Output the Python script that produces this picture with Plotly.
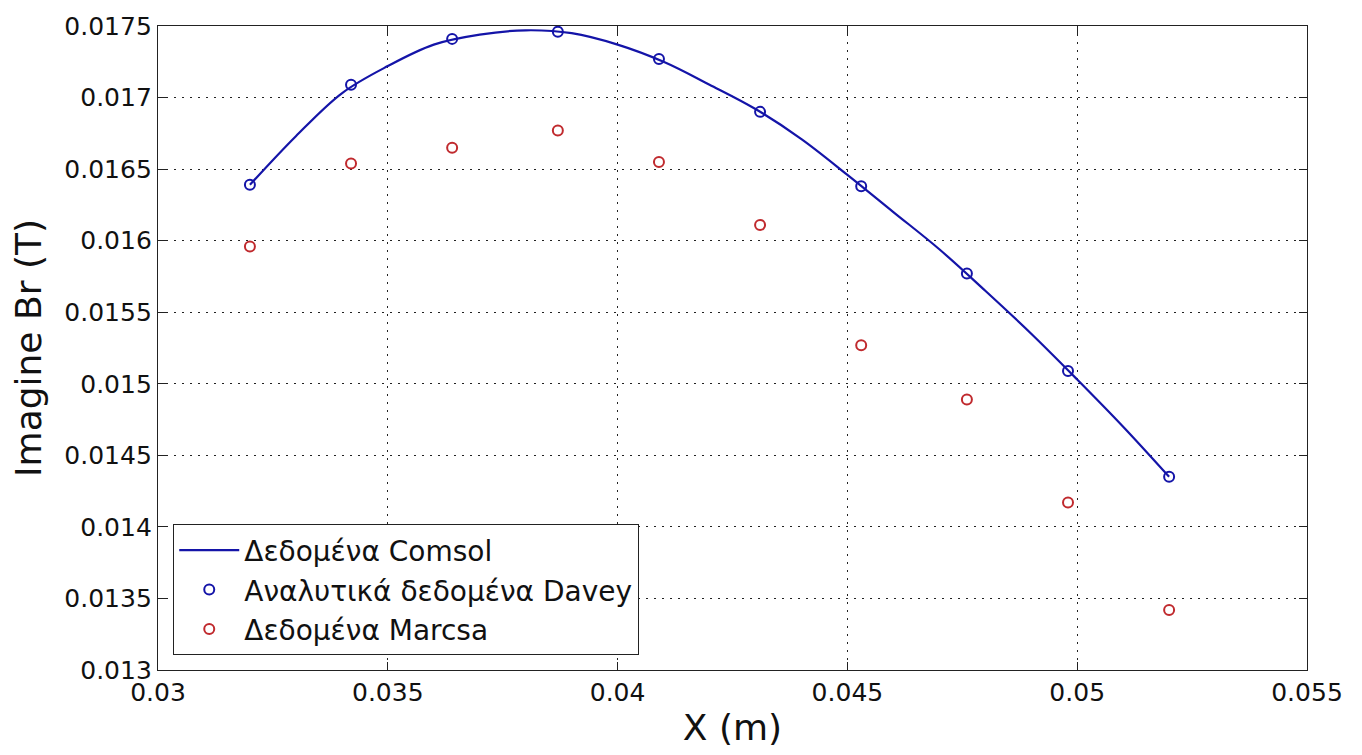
import plotly.graph_objects as go

# Data
x_points = [0.0320, 0.0342, 0.0364, 0.0387, 0.0409, 0.0431, 0.0453, 0.0476, 0.0498, 0.0520]
davey = [0.01639, 0.01709, 0.01741, 0.01746, 0.01727, 0.01690, 0.01638, 0.01577, 0.01509, 0.01435]
marcsa = [0.01596, 0.01654, 0.01665, 0.01677, 0.01655, 0.01611, 0.01527, 0.01489, 0.01417, 0.01342]

x_comsol = [0.032, 0.033, 0.034, 0.035, 0.036, 0.037, 0.038, 0.039, 0.040, 0.041, 0.042,
            0.043, 0.044, 0.045, 0.046, 0.047, 0.048, 0.049, 0.050, 0.051, 0.052]
comsol = [0.01639, 0.01673, 0.01703, 0.01722, 0.01737, 0.01744, 0.01747, 0.01745, 0.01737,
          0.01725, 0.01709, 0.01692, 0.01671, 0.01646, 0.01620, 0.01594, 0.01565, 0.01535,
          0.01503, 0.01470, 0.01435]

x_ticks = [0.03, 0.035, 0.04, 0.045, 0.05, 0.055]
x_ticktext = ["0.03", "0.035", "0.04", "0.045", "0.05", "0.055"]
y_ticks = [0.013, 0.0135, 0.014, 0.0145, 0.015, 0.0155, 0.016, 0.0165, 0.017, 0.0175]
y_ticktext = ["0.013", "0.0135", "0.014", "0.0145", "0.015", "0.0155", "0.016", "0.0165", "0.017", "0.0175"]

BLUE = "#1414a8"
RED = "#c02a2e"
FONT = "DejaVu Sans, Arial, sans-serif"

fig = go.Figure()
fig.add_trace(go.Scatter(x=x_comsol, y=comsol, mode="lines", name="Δεδομένα Comsol",
                         line=dict(color=BLUE, width=2.2, shape="spline")))
fig.add_trace(go.Scatter(x=x_points, y=davey, mode="markers", name="Αναλυτικά δεδομένα Davey",
                         marker=dict(symbol="circle-open", size=10, color=BLUE, line=dict(width=2, color=BLUE))))
fig.add_trace(go.Scatter(x=x_points, y=marcsa, mode="markers", name="Δεδομένα Marcsa",
                         marker=dict(symbol="circle-open", size=10, color=RED, line=dict(width=2, color=RED))))

axis_common = dict(showline=True, linecolor="#222", linewidth=1.3, mirror="ticks",
                   ticks="inside", ticklen=8, tickcolor="#222", tickwidth=1.3,
                   showgrid=True, gridcolor="#222", griddash="2px,6px", gridwidth=1.2,
                   zeroline=False, tickfont=dict(family=FONT, size=25, color="#111"))

fig.update_xaxes(range=[0.03, 0.055], tickvals=x_ticks, ticktext=x_ticktext,
                 title=dict(text="X (m)", font=dict(family=FONT, size=36, color="#111"), standoff=8),
                 **axis_common)
fig.update_yaxes(range=[0.013, 0.0175], tickvals=y_ticks, ticktext=y_ticktext,
                 **axis_common)

fig.add_annotation(text="Imagine Br (T)", xref="paper", yref="paper",
                   x=-0.1131, y=0.5, xanchor="center", yanchor="middle",
                   textangle=-90, showarrow=False,
                   font=dict(family=FONT, size=36, color="#111"))

fig.update_layout(
    width=1362, height=755,
    margin=dict(l=158, r=55, t=19, b=85),
    paper_bgcolor="white", plot_bgcolor="white",
    showlegend=True,
    legend=dict(x=0.013, y=0.023, xanchor="left", yanchor="bottom",
                bgcolor="white", bordercolor="#222", borderwidth=1.3,
                font=dict(family=FONT, size=28, color="#111"),
                itemwidth=60, tracegroupgap=0),
)

fig.write_html("out.html")
